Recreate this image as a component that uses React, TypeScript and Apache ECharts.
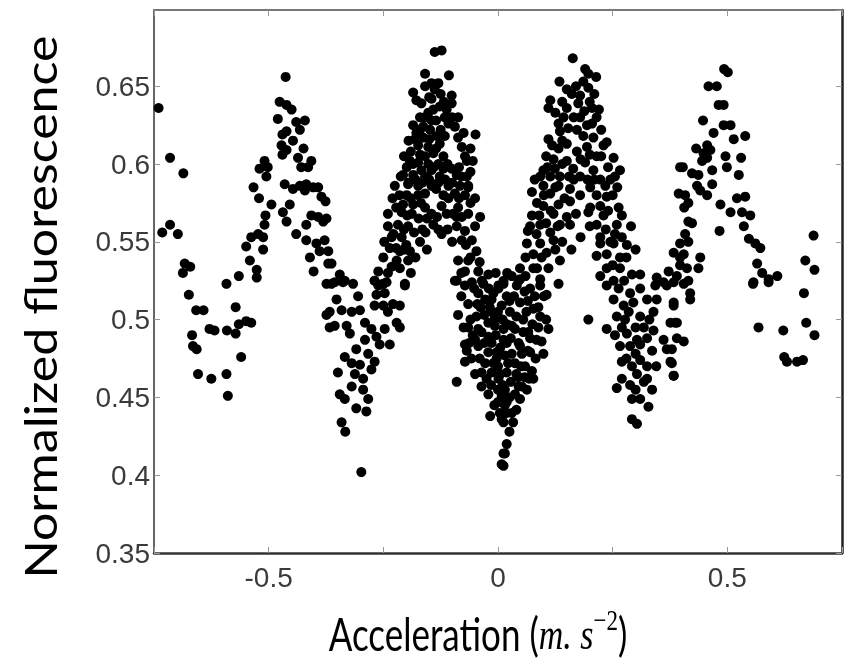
import React, { useEffect, useRef } from 'react';
import * as echarts from 'echarts';

const xTickLabels = [-0.5, 0, 0.5];
const yTickLabels = [0.35, 0.4, 0.45, 0.5, 0.55, 0.6, 0.65];
const xTitle = 'Acceleration (';
const xUnit = 'm. s';
const xUnitPow = '−2';
const yTitle = 'Normalized fluorescence';

const leftEdge: number[][] = [
  [-0.740, 0.636], [-0.715, 0.604], [-0.686, 0.594], [-0.732, 0.556], [-0.715, 0.561], [-0.698, 0.555],
  [-0.683, 0.536], [-0.671, 0.534], [-0.687, 0.530], [-0.592, 0.523], [-0.565, 0.528], [-0.674, 0.516],
  [-0.658, 0.506], [-0.642, 0.506], [-0.572, 0.508], [-0.667, 0.490], [-0.629, 0.494], [-0.618, 0.493],
  [-0.591, 0.493], [-0.572, 0.491], [-0.565, 0.497], [-0.665, 0.483], [-0.657, 0.481], [-0.560, 0.476],
  [-0.654, 0.465], [-0.625, 0.462], [-0.592, 0.465], [-0.589, 0.451],
];

const peakA: number[][] = [
  [-0.463, 0.656], [-0.476, 0.640], [-0.450, 0.635], [-0.461, 0.638], [-0.480, 0.629], [-0.440, 0.627],
  [-0.421, 0.628], [-0.432, 0.622], [-0.461, 0.621], [-0.470, 0.619], [-0.447, 0.615], [-0.472, 0.612],
  [-0.461, 0.609], [-0.470, 0.606], [-0.424, 0.610], [-0.436, 0.604], [-0.429, 0.598], [-0.407, 0.602],
  [-0.414, 0.598], [-0.509, 0.602], [-0.520, 0.597], [-0.502, 0.598], [-0.505, 0.592], [-0.533, 0.585],
  [-0.465, 0.587], [-0.447, 0.584], [-0.432, 0.586], [-0.418, 0.587], [-0.403, 0.585], [-0.392, 0.585],
  [-0.421, 0.583], [-0.521, 0.578], [-0.385, 0.579], [-0.376, 0.576], [-0.494, 0.574], [-0.454, 0.574],
  [-0.469, 0.569], [-0.507, 0.567], [-0.509, 0.561], [-0.461, 0.563], [-0.407, 0.567], [-0.418, 0.561],
  [-0.392, 0.566], [-0.381, 0.563], [-0.440, 0.555], [-0.538, 0.553], [-0.523, 0.555], [-0.512, 0.553],
  [-0.549, 0.547], [-0.512, 0.545], [-0.418, 0.551], [-0.396, 0.549], [-0.378, 0.551], [-0.389, 0.544],
  [-0.410, 0.540], [-0.541, 0.538], [-0.526, 0.532], [-0.526, 0.527], [-0.402, 0.531], [-0.370, 0.536],
  [-0.374, 0.523], [-0.374, 0.565], [-0.370, 0.544], [-0.363, 0.536], [-0.549, 0.499], [-0.538, 0.498],
  [-0.374, 0.503], [-0.367, 0.495],
];

const troughA: number[][] = [
  [-0.345, 0.529], [-0.334, 0.525], [-0.356, 0.524], [-0.316, 0.523], [-0.363, 0.523], [-0.338, 0.524],
  [-0.305, 0.515], [-0.352, 0.513], [-0.367, 0.505], [-0.341, 0.506], [-0.319, 0.505], [-0.301, 0.506],
  [-0.356, 0.496], [-0.330, 0.496], [-0.323, 0.491], [-0.290, 0.498], [-0.276, 0.494], [-0.261, 0.522],
  [-0.243, 0.524], [-0.265, 0.516], [-0.247, 0.517], [-0.269, 0.509], [-0.250, 0.509], [-0.229, 0.510],
  [-0.214, 0.509], [-0.240, 0.505], [-0.221, 0.498], [-0.214, 0.495], [-0.247, 0.494], [-0.265, 0.489],
  [-0.290, 0.487], [-0.236, 0.484], [-0.258, 0.484], [-0.309, 0.481], [-0.334, 0.476], [-0.283, 0.478],
  [-0.269, 0.473], [-0.319, 0.472], [-0.301, 0.471], [-0.349, 0.466], [-0.276, 0.468], [-0.312, 0.465],
  [-0.294, 0.462], [-0.319, 0.457], [-0.294, 0.455], [-0.345, 0.452], [-0.334, 0.449], [-0.309, 0.443],
  [-0.287, 0.441], [-0.283, 0.449], [-0.341, 0.434], [-0.333, 0.428], [-0.298, 0.402], [-0.203, 0.522],
  [-0.269, 0.525], [-0.250, 0.523],
];

const peakB: number[][] = [
  [-0.138, 0.672], [-0.123, 0.673], [-0.159, 0.658], [-0.107, 0.657], [-0.145, 0.652], [-0.130, 0.652],
  [-0.185, 0.646], [-0.159, 0.650], [-0.138, 0.648], [-0.101, 0.644], [-0.178, 0.641], [-0.167, 0.639],
  [-0.101, 0.639], [-0.127, 0.637], [-0.152, 0.633], [-0.141, 0.635], [-0.159, 0.630], [-0.116, 0.630],
  [-0.108, 0.626], [-0.163, 0.624], [-0.094, 0.624], [-0.148, 0.622], [-0.181, 0.616], [-0.163, 0.617],
  [-0.134, 0.618], [-0.116, 0.618], [-0.049, 0.619], [-0.087, 0.617], [-0.174, 0.612], [-0.152, 0.611],
  [-0.127, 0.613], [-0.079, 0.611], [-0.159, 0.605], [-0.141, 0.607], [-0.119, 0.605], [-0.072, 0.605],
  [-0.192, 0.602], [-0.174, 0.601], [-0.152, 0.600], [-0.130, 0.600], [-0.068, 0.602], [-0.199, 0.598],
  [-0.167, 0.596], [-0.145, 0.596], [-0.119, 0.597], [-0.101, 0.597], [-0.207, 0.593], [-0.185, 0.593],
  [-0.159, 0.592], [-0.127, 0.592], [-0.090, 0.593], [-0.068, 0.592], [-0.225, 0.586], [-0.196, 0.587],
  [-0.174, 0.586], [-0.145, 0.586], [-0.108, 0.586], [-0.083, 0.586], [-0.065, 0.586], [-0.199, 0.580],
  [-0.174, 0.580], [-0.159, 0.581], [-0.119, 0.580], [-0.094, 0.581], [-0.072, 0.580], [-0.207, 0.574],
  [-0.185, 0.574], [-0.159, 0.572], [-0.123, 0.573], [-0.087, 0.572], [-0.210, 0.569], [-0.188, 0.568],
  [-0.145, 0.568], [-0.098, 0.568], [-0.079, 0.566], [-0.039, 0.566], [-0.218, 0.561], [-0.196, 0.560],
  [-0.240, 0.560], [-0.141, 0.561], [-0.130, 0.558], [-0.123, 0.555], [-0.090, 0.560], [-0.072, 0.557],
  [-0.232, 0.553], [-0.210, 0.553], [-0.170, 0.550], [-0.079, 0.551], [-0.057, 0.551], [-0.236, 0.546],
  [-0.214, 0.544], [-0.192, 0.544], [-0.047, 0.544], [-0.250, 0.540], [-0.221, 0.538], [-0.196, 0.538],
  [-0.087, 0.538], [-0.065, 0.538], [-0.261, 0.531], [-0.240, 0.530], [-0.214, 0.533], [-0.072, 0.531],
  [-0.043, 0.531], [-0.021, 0.529], [-0.269, 0.525], [-0.250, 0.523], [-0.203, 0.523], [-0.090, 0.525],
  [-0.057, 0.524], [-0.032, 0.523], [0.001, 0.522],
];

const peakBCore: number[][] = [
  [-0.205, 0.605], [-0.190, 0.608], [-0.170, 0.606], [-0.150, 0.616], [-0.135, 0.610], [-0.085, 0.598],
  [-0.180, 0.590], [-0.165, 0.588], [-0.150, 0.590], [-0.135, 0.584], [-0.115, 0.590], [-0.100, 0.588],
  [-0.080, 0.592], [-0.060, 0.595], [-0.215, 0.580], [-0.190, 0.578], [-0.168, 0.575], [-0.108, 0.578],
  [-0.085, 0.578], [-0.060, 0.575], [-0.222, 0.572], [-0.198, 0.567], [-0.173, 0.565], [-0.155, 0.565],
  [-0.133, 0.566], [-0.112, 0.568], [-0.090, 0.566], [-0.065, 0.568], [-0.050, 0.560], [-0.228, 0.555],
  [-0.205, 0.558], [-0.183, 0.556], [-0.158, 0.556], [-0.110, 0.558], [-0.100, 0.550], [-0.070, 0.548],
  [-0.248, 0.550], [-0.222, 0.546], [-0.200, 0.548], [-0.180, 0.540], [-0.155, 0.545], [-0.060, 0.540],
  [-0.040, 0.537], [-0.232, 0.534], [-0.190, 0.530], [-0.080, 0.530], [-0.125, 0.622], [-0.145, 0.628],
  [-0.170, 0.630], [-0.118, 0.640], [-0.150, 0.643], [-0.060, 0.610], [-0.195, 0.588], [-0.140, 0.598],
  [-0.178, 0.620], [-0.195, 0.615], [-0.185, 0.625], [-0.170, 0.622], [-0.135, 0.628], [-0.125, 0.645],
  [-0.145, 0.642], [-0.112, 0.635], [-0.100, 0.630], [-0.087, 0.630], [-0.075, 0.620], [-0.055, 0.602],
  [-0.065, 0.585], [-0.050, 0.578], [-0.212, 0.592], [-0.230, 0.578], [-0.240, 0.568], [-0.110, 0.600],
  [-0.130, 0.588], [-0.185, 0.600], [-0.205, 0.545], [-0.165, 0.558],
];

const troughB: number[][] = [
  [-0.087, 0.503], [-0.090, 0.460], [-0.072, 0.484], [-0.068, 0.480], [-0.072, 0.473], [-0.065, 0.510],
  [-0.017, 0.438], [-0.094, 0.525], [-0.072, 0.522], [-0.043, 0.517], [-0.028, 0.513], [-0.047, 0.502],
  [-0.036, 0.492], [-0.043, 0.483], [-0.028, 0.472], [-0.036, 0.457], [-0.021, 0.452], [-0.014, 0.505],
  [-0.007, 0.496], [-0.014, 0.485], [-0.003, 0.479], [-0.014, 0.466], [0.001, 0.462], [0.008, 0.451],
  [0.008, 0.436], [0.012, 0.414], [0.008, 0.407], [0.001, 0.520], [-0.014, 0.513], [0.008, 0.509],
  [-0.021, 0.498], [-0.021, 0.489], [-0.021, 0.479], [-0.010, 0.472], [-0.043, 0.494], [-0.050, 0.487],
  [-0.036, 0.466], [0.132, 0.523], [0.106, 0.516], [0.110, 0.494], [0.095, 0.486], [0.099, 0.478],
  [0.077, 0.462], [0.033, 0.434], [0.019, 0.420], [0.015, 0.414], [0.012, 0.406], [0.004, 0.440],
  [0.019, 0.440], [0.012, 0.434], [0.041, 0.522], [0.070, 0.520], [0.092, 0.522], [0.019, 0.515],
  [0.048, 0.511], [0.077, 0.507], [0.092, 0.502], [0.026, 0.505], [0.055, 0.500], [0.012, 0.494],
  [0.037, 0.494], [0.066, 0.492], [0.084, 0.487], [0.019, 0.485], [0.048, 0.483], [0.070, 0.479],
  [0.015, 0.477], [0.037, 0.472], [0.059, 0.470], [0.074, 0.467], [0.019, 0.466], [0.044, 0.463],
  [0.063, 0.455], [0.015, 0.455], [0.037, 0.452], [0.019, 0.447], [0.048, 0.449],
];

const troughBCore: number[][] = [
  [-0.060, 0.500], [-0.055, 0.490], [-0.058, 0.475], [-0.050, 0.465], [-0.045, 0.510], [-0.030, 0.503],
  [-0.030, 0.485], [-0.025, 0.462], [-0.010, 0.517], [-0.005, 0.490], [0.000, 0.470], [0.000, 0.505],
  [0.005, 0.482], [0.010, 0.458], [0.015, 0.445], [0.020, 0.497], [0.025, 0.512], [0.028, 0.488],
  [0.028, 0.460], [0.030, 0.478], [0.035, 0.515], [0.040, 0.502], [0.040, 0.442], [0.045, 0.485],
  [0.050, 0.470], [0.052, 0.457], [0.055, 0.492], [0.058, 0.518], [0.062, 0.505], [0.065, 0.480],
  [0.068, 0.462], [0.075, 0.497], [0.080, 0.515], [0.082, 0.475], [0.088, 0.508], [0.100, 0.515],
  [0.105, 0.500], [-0.008, 0.445], [0.025, 0.428], [-0.040, 0.475], [-0.065, 0.495], [-0.080, 0.515],
  [0.000, 0.455], [-0.018, 0.508], [0.012, 0.525], [0.060, 0.528], [0.030, 0.528], [-0.005, 0.530],
  [-0.052, 0.520], [-0.035, 0.525], [-0.020, 0.520], [-0.038, 0.508], [-0.008, 0.500], [0.010, 0.500],
  [0.030, 0.496], [0.012, 0.487], [-0.003, 0.475], [0.022, 0.472], [0.040, 0.465], [0.058, 0.463],
  [0.005, 0.465], [-0.015, 0.458], [0.025, 0.450], [0.000, 0.447], [0.030, 0.440], [0.045, 0.457],
  [0.052, 0.478], [0.070, 0.488], [0.088, 0.495], [0.065, 0.512], [0.045, 0.525], [0.020, 0.530],
  [-0.063, 0.485], [-0.075, 0.495],
];

const peakC: number[][] = [
  [0.163, 0.668], [0.190, 0.661], [0.197, 0.658], [0.214, 0.656], [0.134, 0.653], [0.186, 0.653],
  [0.150, 0.648], [0.197, 0.649], [0.161, 0.645], [0.179, 0.644], [0.114, 0.641], [0.110, 0.636],
  [0.175, 0.639], [0.205, 0.636], [0.143, 0.630], [0.179, 0.630], [0.215, 0.630], [0.132, 0.626],
  [0.194, 0.625], [0.153, 0.623], [0.135, 0.621], [0.186, 0.618], [0.208, 0.617], [0.110, 0.616],
  [0.237, 0.614], [0.150, 0.613], [0.132, 0.610], [0.194, 0.611], [0.172, 0.608], [0.252, 0.604],
  [0.215, 0.605], [0.121, 0.603], [0.150, 0.602], [0.190, 0.601], [0.266, 0.596], [0.099, 0.596],
  [0.124, 0.597], [0.164, 0.597], [0.208, 0.596], [0.092, 0.592], [0.114, 0.592], [0.179, 0.592],
  [0.223, 0.590], [0.234, 0.586], [0.099, 0.586], [0.132, 0.586], [0.157, 0.584], [0.201, 0.585],
  [0.074, 0.582], [0.114, 0.581], [0.179, 0.580], [0.237, 0.579], [0.157, 0.576], [0.099, 0.573],
  [0.132, 0.574], [0.201, 0.572], [0.223, 0.573], [0.263, 0.572], [0.074, 0.567], [0.121, 0.568],
  [0.150, 0.566], [0.197, 0.569], [0.230, 0.567], [0.270, 0.567], [0.092, 0.561], [0.135, 0.561],
  [0.157, 0.561], [0.215, 0.561], [0.259, 0.561], [0.084, 0.555], [0.114, 0.556], [0.223, 0.553],
  [0.255, 0.555], [0.063, 0.549], [0.092, 0.549], [0.121, 0.551], [0.223, 0.549], [0.252, 0.549],
  [0.281, 0.548], [0.077, 0.542], [0.106, 0.543], [0.135, 0.538], [0.237, 0.542], [0.266, 0.540],
  [0.048, 0.533], [0.077, 0.533], [0.110, 0.533], [0.237, 0.533], [0.266, 0.533], [0.292, 0.529],
  [0.310, 0.529], [0.346, 0.527], [0.048, 0.526], [0.092, 0.526], [0.223, 0.528], [0.252, 0.525],
  [0.012, 0.523], [0.397, 0.598], [0.394, 0.581], [0.383, 0.543], [0.397, 0.540], [0.372, 0.531],
  [0.361, 0.524],
];

const peakCCore: number[][] = [
  [0.105, 0.605], [0.118, 0.612], [0.140, 0.615], [0.172, 0.622], [0.165, 0.630], [0.150, 0.636],
  [0.200, 0.640], [0.188, 0.634], [0.225, 0.622], [0.205, 0.626], [0.225, 0.605], [0.240, 0.598],
  [0.200, 0.606], [0.180, 0.603], [0.140, 0.600], [0.108, 0.598], [0.080, 0.590], [0.135, 0.592],
  [0.165, 0.590], [0.195, 0.590], [0.245, 0.590], [0.085, 0.575], [0.115, 0.570], [0.145, 0.578],
  [0.215, 0.580], [0.250, 0.580], [0.070, 0.560], [0.105, 0.562], [0.170, 0.568], [0.240, 0.570],
  [0.200, 0.560], [0.180, 0.553], [0.235, 0.558], [0.140, 0.550], [0.095, 0.540], [0.125, 0.545],
  [0.060, 0.540], [0.250, 0.535], [0.280, 0.540], [0.290, 0.560], [0.300, 0.545], [0.275, 0.525],
  [0.215, 0.541], [0.160, 0.545], [0.125, 0.633], [0.140, 0.640], [0.170, 0.650], [0.210, 0.645],
  [0.220, 0.635], [0.230, 0.612], [0.125, 0.585], [0.100, 0.580], [0.090, 0.567], [0.155, 0.592],
  [0.210, 0.590], [0.255, 0.592], [0.260, 0.585], [0.085, 0.533], [0.065, 0.557], [0.130, 0.560],
  [0.245, 0.550], [0.270, 0.553],
];

const troughC: number[][] = [
  [0.197, 0.500], [0.237, 0.494], [0.259, 0.456], [0.292, 0.436], [0.303, 0.433], [0.328, 0.444],
  [0.336, 0.455], [0.310, 0.449], [0.292, 0.449], [0.288, 0.458], [0.270, 0.473], [0.303, 0.465],
  [0.325, 0.470], [0.325, 0.462], [0.310, 0.474], [0.292, 0.470], [0.266, 0.483], [0.288, 0.483],
  [0.310, 0.484], [0.336, 0.480], [0.281, 0.491], [0.303, 0.487], [0.325, 0.488], [0.339, 0.493],
  [0.259, 0.502], [0.277, 0.500], [0.310, 0.502], [0.339, 0.505], [0.252, 0.513], [0.274, 0.509],
  [0.295, 0.511], [0.325, 0.513], [0.237, 0.522], [0.263, 0.520], [0.288, 0.517], [0.310, 0.520],
  [0.343, 0.522], [0.346, 0.513], [0.368, 0.522], [0.383, 0.511], [0.376, 0.498], [0.390, 0.498],
  [0.361, 0.487], [0.368, 0.481], [0.376, 0.473], [0.383, 0.464], [0.255, 0.490], [0.270, 0.495],
  [0.285, 0.505], [0.300, 0.495], [0.318, 0.495], [0.330, 0.500], [0.300, 0.478], [0.280, 0.475],
  [0.318, 0.460], [0.300, 0.455], [0.270, 0.462], [0.345, 0.470],
];

const peakD: number[][] = [
  [0.493, 0.661], [0.501, 0.659], [0.459, 0.650], [0.477, 0.650], [0.481, 0.638], [0.492, 0.638],
  [0.447, 0.628], [0.492, 0.625], [0.507, 0.625], [0.470, 0.620], [0.514, 0.616], [0.539, 0.618],
  [0.432, 0.610], [0.456, 0.612], [0.448, 0.607], [0.463, 0.609], [0.445, 0.602], [0.456, 0.604],
  [0.496, 0.605], [0.530, 0.604], [0.403, 0.598], [0.467, 0.596], [0.499, 0.598], [0.423, 0.594],
  [0.437, 0.593], [0.525, 0.593], [0.467, 0.587], [0.434, 0.586], [0.441, 0.583], [0.456, 0.580],
  [0.408, 0.580], [0.415, 0.575], [0.406, 0.572], [0.521, 0.578], [0.539, 0.579], [0.485, 0.574],
  [0.507, 0.569], [0.532, 0.569], [0.550, 0.567], [0.415, 0.563], [0.423, 0.562], [0.483, 0.557],
  [0.536, 0.560], [0.408, 0.555], [0.547, 0.552], [0.561, 0.549], [0.572, 0.546], [0.397, 0.549],
  [0.415, 0.550], [0.405, 0.542], [0.441, 0.540], [0.437, 0.533], [0.397, 0.535], [0.412, 0.533],
  [0.390, 0.528], [0.415, 0.525], [0.565, 0.536], [0.576, 0.530], [0.590, 0.526], [0.609, 0.528],
  [0.557, 0.524],
];

const rightEdge: number[][] = [
  [0.688, 0.554], [0.670, 0.538], [0.690, 0.532], [0.383, 0.524], [0.405, 0.523], [0.419, 0.517],
  [0.419, 0.513], [0.383, 0.509], [0.386, 0.498], [0.390, 0.488], [0.405, 0.486], [0.379, 0.481],
  [0.379, 0.472], [0.383, 0.464], [0.556, 0.523], [0.590, 0.524], [0.667, 0.517], [0.568, 0.495],
  [0.622, 0.493], [0.672, 0.498], [0.690, 0.490], [0.624, 0.476], [0.630, 0.473], [0.652, 0.473],
  [0.665, 0.474],
];

const points = [
  ...leftEdge, ...peakA, ...troughA, ...peakB, ...peakBCore, ...troughB, ...troughBCore,
  ...peakC, ...peakCCore, ...troughC, ...peakD, ...rightEdge,
];

const tickFont = 'Liberation Sans, Arial, sans-serif';
const titleFont = 'Lato, "Open Sans", sans-serif';

function labelFor(list: number[], v: number): string {
  const t = list.find((x) => Math.abs(x - v) < 1e-9);
  return t === undefined ? '' : String(t);
}

export default function App() {
  const ref = useRef<HTMLDivElement>(null);
  useEffect(() => {
    if (!ref.current) return;
    const chart = echarts.init(ref.current, null, { renderer: 'svg' });
    const xMin = -0.75, xMax = 0.75, yMin = 0.35, yMax = 0.699;
    const innerTick = { show: true, inside: true, length: 6, lineStyle: { color: '#999', width: 1 } };
    chart.setOption({
      animation: false,
      grid: { left: 154, right: 4, top: 10, bottom: 116, containLabel: false },
      xAxis: [
        {
          type: 'value', min: xMin, max: xMax, interval: 0.25, position: 'bottom',
          axisLine: { show: true, onZero: false, lineStyle: { color: '#333', width: 2.5 } },
          axisTick: innerTick,
          axisLabel: {
            formatter: (v: number) => labelFor(xTickLabels, v),
            fontSize: 28, color: '#3a3a3a', fontFamily: tickFont, margin: 10,
          },
          splitLine: { show: false },
        },
        {
          type: 'value', min: xMin, max: xMax, interval: 0.25, position: 'top',
          axisLine: { show: true, onZero: false, lineStyle: { color: '#777', width: 2 } },
          axisTick: innerTick, axisLabel: { show: false }, splitLine: { show: false },
        },
      ],
      yAxis: [
        {
          type: 'value', min: yMin, max: yMax, interval: 0.05, position: 'left',
          axisLine: { show: true, onZero: false, lineStyle: { color: '#666', width: 2 } },
          axisTick: innerTick,
          axisLabel: {
            formatter: (v: number) => labelFor(yTickLabels, v),
            showMaxLabel: false,
            fontSize: 28, color: '#3a3a3a', fontFamily: tickFont, margin: 4,
          },
          splitLine: { show: false },
        },
        {
          type: 'value', min: yMin, max: yMax, interval: 0.05, position: 'right',
          axisLine: { show: true, onZero: false, lineStyle: { color: '#222', width: 2.5 } },
          axisTick: innerTick, axisLabel: { show: false }, splitLine: { show: false },
        },
      ],
      graphic: [
        {
          type: 'text', x: 40, y: 307, rotation: Math.PI / 2, scaleX: 1.14, scaleY: 1,
          style: {
            text: yTitle, font: `44px ${titleFont}`, fill: '#000',
            textAlign: 'center', textVerticalAlign: 'middle',
          },
        },
        {
          type: 'text', x: 478, y: 634, scaleX: 1, scaleY: 1.3,
          style: {
            text: `{a|${xTitle}}{m|${xUnit}}{p|${xUnitPow}}{a|)}`,
            textAlign: 'center', textVerticalAlign: 'middle',
            rich: {
              a: { fontSize: 35, fontFamily: titleFont, color: '#000', lineHeight: 44 },
              m: { fontSize: 34, fontFamily: 'Liberation Serif, serif', fontStyle: 'italic', color: '#000', lineHeight: 44 },
              p: { fontSize: 23, fontFamily: 'Liberation Serif, serif', color: '#000', verticalAlign: 'top', lineHeight: 23 },
            },
          },
        },
      ],
      series: [
        {
          type: 'scatter', xAxisIndex: 0, yAxisIndex: 0, data: points, symbol: 'circle', symbolSize: 10,
          itemStyle: { color: '#000', opacity: 1 },
        },
      ],
    });
    return () => chart.dispose();
  }, []);
  return <div ref={ref} style={{ position: 'fixed', left: 0, top: 0, width: 846, height: 669 }} />;
}
